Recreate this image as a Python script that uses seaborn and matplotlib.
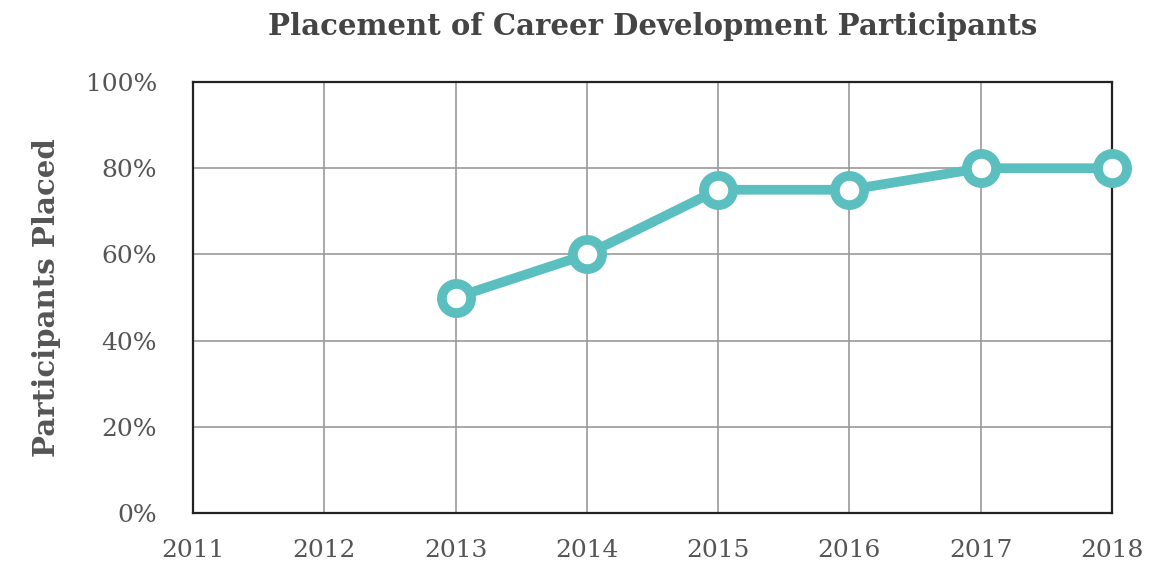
import numpy as np
import pandas as pd
import seaborn as sns
import matplotlib.pyplot as plt
from matplotlib.ticker import PercentFormatter

years = [2013, 2014, 2015, 2016, 2017, 2018]
placed = [50, 60, 75, 75, 80, 80]
x_ticks = [2011, 2012, 2013, 2014, 2015, 2016, 2017, 2018]
y_ticks = [0, 20, 40, 60, 80, 100]

df = pd.DataFrame({'year': years, 'placed': placed})

sns.set_style('white')
plt.rcParams['font.family'] = ['DejaVu Serif']

fig = plt.figure(figsize=(11.65, 5.64), dpi=100)
ax = fig.add_axes([0.1657, 0.0904, 0.7888, 0.7642])

teal = '#5bbfbf'
sns.lineplot(data=df, x='year', y='placed', ax=ax, color=teal, linewidth=7,
             marker='o', markersize=21, markerfacecolor='white',
             markeredgecolor=teal, markeredgewidth=7, clip_on=False, zorder=5)

ax.set_xlim(2011, 2018)
ax.set_ylim(0, 100)
ax.set_xticks(x_ticks)
ax.set_yticks(y_ticks)
ax.yaxis.set_major_formatter(PercentFormatter(decimals=0))
ax.grid(True, color='#9a9a9a', linewidth=1.2)
ax.set_axisbelow(True)
for s in ax.spines.values():
    s.set_visible(True)
    s.set_color('#222222')
    s.set_linewidth(1.6)

ax.tick_params(axis='x', length=0, pad=19, labelsize=18, labelcolor='#555555')
ax.tick_params(axis='y', length=0, pad=26, labelsize=18, labelcolor='#555555')

ax.set_xlabel('')
ax.set_ylabel('Participants Placed', fontsize=21, fontweight='bold', color='#555555', labelpad=18)
ax.set_title('Placement of Career Development Participants', fontsize=21,
             fontweight='bold', color='#444444', pad=34)

fig.savefig('out.png', dpi=100)
